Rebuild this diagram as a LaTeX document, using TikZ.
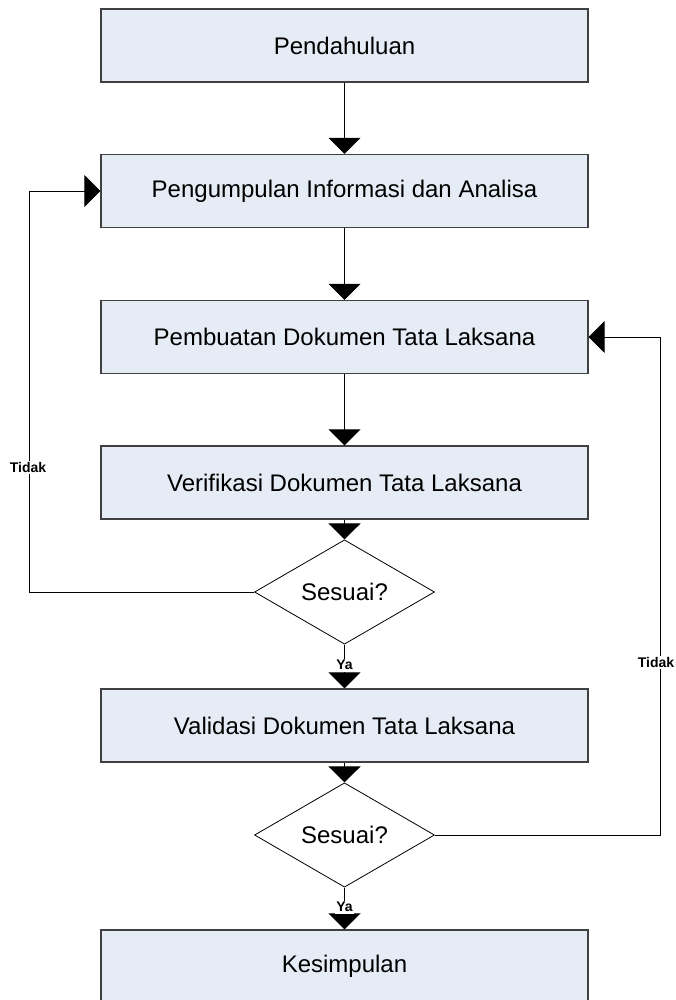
\documentclass[tikz,border=0pt]{standalone}
\usepackage{fontspec}
\setmainfont{Liberation Sans}
\usetikzlibrary{arrows.meta,shapes.geometric}
\definecolor{boxfill}{HTML}{E6ECF6}
\definecolor{boxline}{HTML}{404040}
\begin{document}
\begin{tikzpicture}[x=1pt,y=-1pt,
  stepbox/.style={draw=boxline, fill=boxfill, line width=1.2pt, minimum width=487pt, minimum height=73pt, inner sep=0pt, font=\fontsize{24}{28}\selectfont},
  decision/.style={diamond, draw=black, fill=white, line width=0.8pt, minimum width=180pt, minimum height=97pt, inner sep=0pt, font=\fontsize{24}{28}\selectfont},
  arr/.style={draw=black, line width=0.9pt, -{Triangle[length=16pt,width=32pt]}},
  lbl/.style={fill=white, inner sep=1.5pt, font=\bfseries\fontsize{14}{16}\selectfont}
]
\useasboundingbox (0,0) rectangle (676,1000);
\node[stepbox] (b1) at (344.5,45.5) {Pendahuluan};
\node[stepbox] (b2) at (344.5,191) {Pengumpulan Informasi dan Analisa};
\node[stepbox] (b3) at (344.5,337) {Pembuatan Dokumen Tata Laksana};
\node[stepbox] (b4) at (344.5,482.5) {Verifikasi Dokumen Tata Laksana};
\node[decision] (d1) at (344.5,592) {Sesuai?};
\node[stepbox] (b5) at (344.5,725.5) {Validasi Dokumen Tata Laksana};
\node[decision] (d2) at (344.5,835) {Sesuai?};
\node[stepbox] (b6) at (344.5,966.5) {Kesimpulan};
\coordinate (l1) at (29,592);
\coordinate (l2) at (29,191);
\coordinate (r1) at (660,835);
\coordinate (r2) at (660,337);
\draw[arr] (b1) -- (b2);
\draw[arr] (b2) -- (b3);
\draw[arr] (b3) -- (b4);
\draw[arr] (b4) -- (d1);
\draw[arr] (d1) -- node[lbl, pos=0.47]{Ya} (b5);
\draw[arr] (b5) -- (d2);
\draw[arr] (d2) -- node[lbl, pos=0.47]{Ya} (b6);
\draw[arr] (d1.west) -- (l1) -- node[lbl, pos=0.31, xshift=-1pt]{Tidak} (l2) -- (b2.west);
\draw[arr] (d2.east) -- (r1) -- node[lbl, pos=0.347, xshift=-4pt]{Tidak} (r2) -- (b3.east);
\end{tikzpicture}
\end{document}
